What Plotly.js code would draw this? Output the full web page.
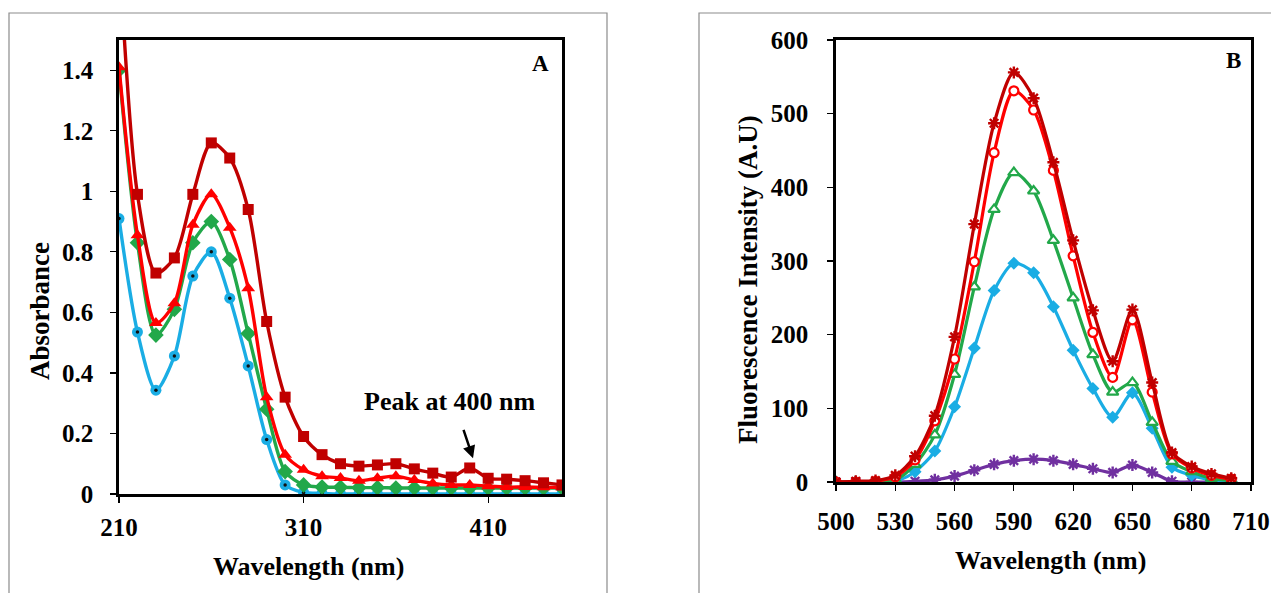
<!DOCTYPE html>
<html>
<head>
<meta charset="utf-8">
<script src="https://cdn.plot.ly/plotly-3.0.1.min.js"></script>
<style>
html,body{margin:0;padding:0;background:#fff;}
#chart{width:1271px;height:593px;}
</style>
</head>
<body>
<div id="chart"></div>
<script>
// ---------- Panel A: absorbance ----------
const wavelengthA = [210,220,230,240,250,260,270,280,290,300,310,320,330,340,350,360,370,380,390,400,410,420,430,440,450];
const absDarkRed = [1.80,0.99,0.73,0.78,0.99,1.16,1.11,0.94,0.57,0.32,0.19,0.13,0.10,0.092,0.096,0.10,0.083,0.069,0.056,0.086,0.052,0.049,0.044,0.037,0.03];
const absRed     = [1.41,0.855,0.565,0.63,0.89,0.99,0.88,0.68,0.32,0.13,0.08,0.059,0.053,0.044,0.052,0.059,0.046,0.035,0.03,0.03,0.026,0.023,0.023,0.022,0.022];
const absGreen   = [1.40,0.83,0.525,0.61,0.83,0.90,0.775,0.53,0.28,0.074,0.03,0.023,0.022,0.021,0.021,0.02,0.02,0.02,0.02,0.02,0.02,0.02,0.02,0.02,0.02];
const absBlue    = [0.91,0.535,0.343,0.456,0.72,0.80,0.647,0.423,0.18,0.03,0.005,0.002,0,0,0,0,0,0,0,0,0,0,0,0,0];
const xTicksA = [210,310,410];
const yTicksA = [0,0.2,0.4,0.6,0.8,1,1.2,1.4];

// ---------- Panel B: fluorescence ----------
const wavelengthB = [500,510,520,530,540,550,560,570,580,590,600,610,620,630,640,650,660,670,680,690,700];
const flDarkRed = [0,1,2,9,35,90,197,350,487,556,521,434,328,233,164,234,135,40,21,11,5];
const flRed     = [0,0,1,7,30,83,167,299,447,531,505,423,307,203,142,220,122,38,19,9,4];
const flGreen   = [0,0,0,3,24,64,146,265,370,420,395,328,250,173,122,135,81,28,14,5,2];
const flBlue    = [0,0,0,1,14,42,102,182,260,297,284,238,179,127,88,121,73,20,9,3,0];
const flPurple  = [0,0,0,0,1,3,8,16,24,29,31,29,24,18,13,23,13,1,0,0,0];
const xTicksB = [500,530,560,590,620,650,680,710];
const yTicksB = [0,100,200,300,400,500,600];

const C = {darkred:'#C00000', red:'#FF0000', green:'#22A84A', blue:'#1AADE4', purple:'#7030A0'};
const W = 1271, H = 593;
const px = x => x / W;
const py = y => 1 - y / H;
const FONT = 'Liberation Serif, Times New Roman, serif';

function lineTrace(x, y, color, symbol, size, xa, ya, lw, extra) {
  return Object.assign({
    x: x, y: y, xaxis: xa, yaxis: ya, type: 'scatter', mode: 'lines+markers',
    line: {color: color, width: lw, shape: 'spline', smoothing: 0.8},
    marker: {color: color, symbol: symbol, size: size, line: {color: color, width: 0}},
    hoverinfo: 'x+y', showlegend: false
  }, extra || {});
}

const traces = [
  lineTrace(wavelengthA, absBlue, C.blue, 'circle', 11, 'x', 'y', 3.4),
  {x: wavelengthA, y: absBlue, xaxis: 'x', yaxis: 'y', type: 'scatter', mode: 'markers',
   marker: {color: '#111', size: 3.5}, hoverinfo: 'skip', showlegend: false},
  lineTrace(wavelengthA, absGreen, C.green, 'diamond', 12, 'x', 'y', 3.4),
  lineTrace(wavelengthA, absRed, C.red, 'triangle-up', 12, 'x', 'y', 3.4),
  lineTrace(wavelengthA, absDarkRed, C.darkred, 'square', 11, 'x', 'y', 3.4),

  lineTrace(wavelengthB, flPurple, C.purple, 'asterisk-open', 10, 'x2', 'y2', 3.2,
    {marker: {color: C.purple, symbol: 'asterisk-open', size: 10, line: {color: C.purple, width: 2.4}}}),
  lineTrace(wavelengthB, flBlue, C.blue, 'diamond', 10, 'x2', 'y2', 3.2),
  lineTrace(wavelengthB, flGreen, C.green, 'triangle-up', 10, 'x2', 'y2', 3.2,
    {marker: {color: '#fff', symbol: 'triangle-up', size: 10, line: {color: C.green, width: 2.2}}}),
  lineTrace(wavelengthB, flRed, C.red, 'circle', 9, 'x2', 'y2', 3.2,
    {marker: {color: '#fff', symbol: 'circle', size: 9, line: {color: C.red, width: 2.2}}}),
  lineTrace(wavelengthB, flDarkRed, C.darkred, 'asterisk-open', 10, 'x2', 'y2', 3.2,
    {marker: {color: C.darkred, symbol: 'asterisk-open', size: 10, line: {color: C.darkred, width: 2.4}}})
];

const axisCommon = {
  showline: true, mirror: true, linecolor: '#000', linewidth: 2.8,
  showgrid: false, zeroline: false, ticks: 'outside', ticklen: 6, tickwidth: 1.2, tickcolor: '#000',
  tickfont: {family: FONT, size: 25, color: '#000', weight: 'bold'},
  automargin: false, fixedrange: true
};

const layout = {
  width: W, height: H, autosize: false,
  margin: {l: 0, r: 0, t: 0, b: 0, pad: 0},
  paper_bgcolor: '#fff', plot_bgcolor: '#fff',
  font: {family: FONT, color: '#000'},
  xaxis: Object.assign({}, axisCommon, {domain: [px(119), px(562)], range: [210, 450],
    tickmode: 'array', tickvals: xTicksA, ticktext: xTicksA.map(String), ticklabelstandoff: 3, anchor: 'y'}),
  yaxis: Object.assign({}, axisCommon, {domain: [py(494), py(40)], range: [0, 1.5],
    tickmode: 'array', tickvals: yTicksA, ticktext: yTicksA.map(String), ticklabelstandoff: 12, anchor: 'x'}),
  xaxis2: Object.assign({}, axisCommon, {domain: [px(836), px(1251)], range: [500, 710],
    tickmode: 'array', tickvals: xTicksB, ticktext: xTicksB.map(String), ticklabelstandoff: 9, anchor: 'y2'}),
  yaxis2: Object.assign({}, axisCommon, {domain: [py(482), py(40)], range: [0, 600],
    tickmode: 'array', tickvals: yTicksB, ticktext: yTicksB.map(String), ticklabelstandoff: 14, anchor: 'x2'}),
  shapes: [
    {type: 'rect', xref: 'paper', yref: 'paper', x0: px(9), x1: px(607), y0: -0.2, y1: py(13),
     line: {color: '#8c8c8c', width: 1.2}, fillcolor: 'rgba(0,0,0,0)', layer: 'below'},
    {type: 'rect', xref: 'paper', yref: 'paper', x0: px(699), x1: 1.2, y0: -0.2, y1: py(13),
     line: {color: '#8c8c8c', width: 1.2}, fillcolor: 'rgba(0,0,0,0)', layer: 'below'}
  ],
  annotations: [
    {text: 'Absorbance', xref: 'paper', yref: 'paper', x: px(40), y: py(311), textangle: -90,
     showarrow: false, xanchor: 'center', yanchor: 'middle', font: {family: FONT, size: 27, weight: 'bold'}},
    {text: 'Wavelength (nm)', xref: 'paper', yref: 'paper', x: px(308), y: py(566),
     showarrow: false, xanchor: 'center', yanchor: 'middle', font: {family: FONT, size: 26, weight: 'bold'}},
    {text: 'Fluorescence Intensity (A.U)', xref: 'paper', yref: 'paper', x: px(748), y: py(280), textangle: -90,
     showarrow: false, xanchor: 'center', yanchor: 'middle', font: {family: FONT, size: 27, weight: 'bold'}},
    {text: 'Wavelength (nm)', xref: 'paper', yref: 'paper', x: px(1050), y: py(560),
     showarrow: false, xanchor: 'center', yanchor: 'middle', font: {family: FONT, size: 26, weight: 'bold'}},
    {text: 'A', xref: 'paper', yref: 'paper', x: px(540), y: py(63),
     showarrow: false, xanchor: 'center', yanchor: 'middle', font: {family: FONT, size: 23, weight: 'bold'}},
    {text: 'B', xref: 'paper', yref: 'paper', x: px(1233), y: py(61),
     showarrow: false, xanchor: 'center', yanchor: 'middle', font: {family: FONT, size: 23, weight: 'bold'}},
    {text: 'Peak at 400 nm', xref: 'paper', yref: 'paper', x: px(450), y: py(401),
     showarrow: false, xanchor: 'center', yanchor: 'middle', font: {family: FONT, size: 26, weight: 'bold'}},
    {text: '', xref: 'x', yref: 'y', x: 401.8, y: 0.118, ax: -10, ay: -30, axref: 'pixel', ayref: 'pixel',
     showarrow: true, arrowhead: 2, arrowsize: 1, arrowwidth: 2.5, arrowcolor: '#000', standoff: 0}
  ]
};

Plotly.newPlot('chart', traces, layout, {displayModeBar: false, staticPlot: true});
</script>
</body>
</html>
